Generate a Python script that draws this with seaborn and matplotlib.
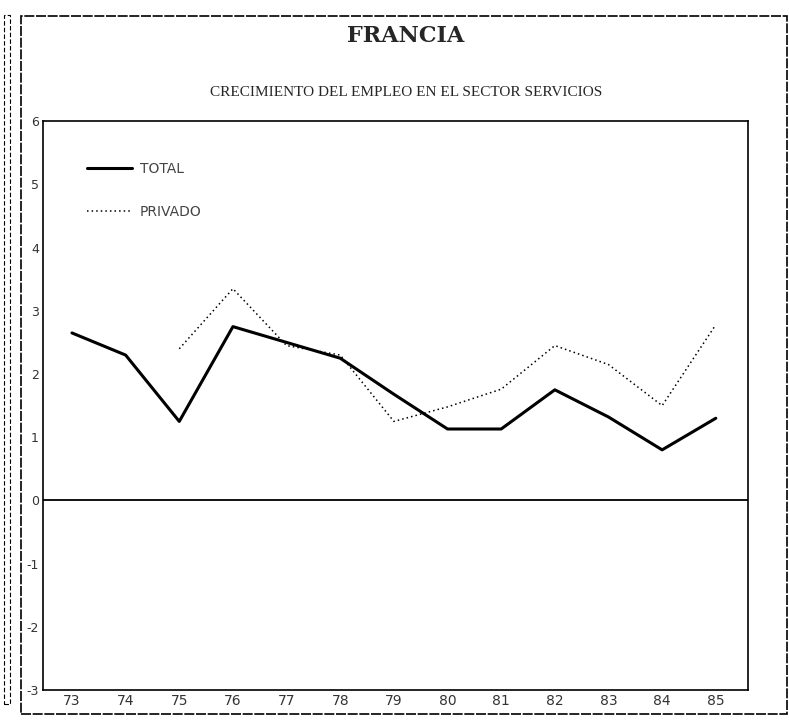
import matplotlib.pyplot as plt
import matplotlib.patches as mpatches
import pandas as pd
import numpy as np
import seaborn as sns

# Data
years = [73, 74, 75, 76, 77, 78, 79, 80, 81, 82, 83, 84, 85]
total = [2.65, 2.3, 1.25, 2.75, 2.5, 2.25, 1.68, 1.13, 1.13, 1.75, 1.32, 0.8, 1.3]
privado_years = [75, 76, 77, 78, 79, 80, 81, 82, 83, 84, 85]
privado = [2.4, 3.35, 2.45, 2.3, 1.25, 1.48, 1.76, 2.45, 2.15, 1.5, 2.78]
yticks = [-3, -2, -1, 0, 1, 2, 3, 4, 5, 6]

sns.set_style('white')
plt.rcParams['font.family'] = ['DejaVu Sans']

fig = plt.figure(figsize=(7.89, 7.26), dpi=100)
ax = fig.add_axes([0.0545, 0.0496, 0.8935, 0.7834])

sns.lineplot(x=years, y=total, ax=ax, color='black', linewidth=2.2, label='TOTAL')
sns.lineplot(x=privado_years, y=privado, ax=ax, color='black', linewidth=1.1,
             linestyle=(0, (1, 2)), label='PRIVADO')

ax.axhline(0, color='black', linewidth=1.3)
ax.set_xlim(72.46, 85.6)
ax.set_ylim(-3, 6)
ax.set_xticks(years)
ax.set_xticklabels([str(y) for y in years], fontsize=10, color='#333333')
ax.set_yticks(yticks)
ax.set_yticklabels([str(t) for t in yticks], fontsize=9, color='#333333')
ax.tick_params(axis='both', direction='in', length=4, width=1, color='black')
ax.tick_params(axis='y', pad=3)
ax.tick_params(axis='x', pad=3)
for s in ax.spines.values():
    s.set_color('black')
    s.set_linewidth(1.2)

leg = ax.legend(loc='upper left', frameon=False, fontsize=10, handlelength=3.2,
                labelspacing=2.1, handletextpad=0.6, bbox_to_anchor=(0.045, 0.95))
for t in leg.get_texts():
    t.set_color('#444444')

fig.text(0.514, 0.95, 'FRANCIA', ha='center', va='center', fontsize=16,
         fontweight='bold', family='DejaVu Serif')
fig.text(0.515, 0.873, 'CRECIMIENTO DEL EMPLEO EN EL SECTOR SERVICIOS', ha='center',
         va='center', fontsize=11, family='Liberation Serif')

# outer frame
fig.patches.append(mpatches.Rectangle((0.027, 0.016), 0.97, 0.962, transform=fig.transFigure,
                                      fill=False, edgecolor='black', linewidth=1.2,
                                      linestyle=(0, (6, 1))))
fig.patches.append(mpatches.Rectangle((0.005, 0.03), 0.008, 0.95, transform=fig.transFigure,
                                      fill=False, edgecolor='black', linewidth=0.8,
                                      linestyle=(0, (4, 2))))

fig.savefig('out.png', dpi=100)
